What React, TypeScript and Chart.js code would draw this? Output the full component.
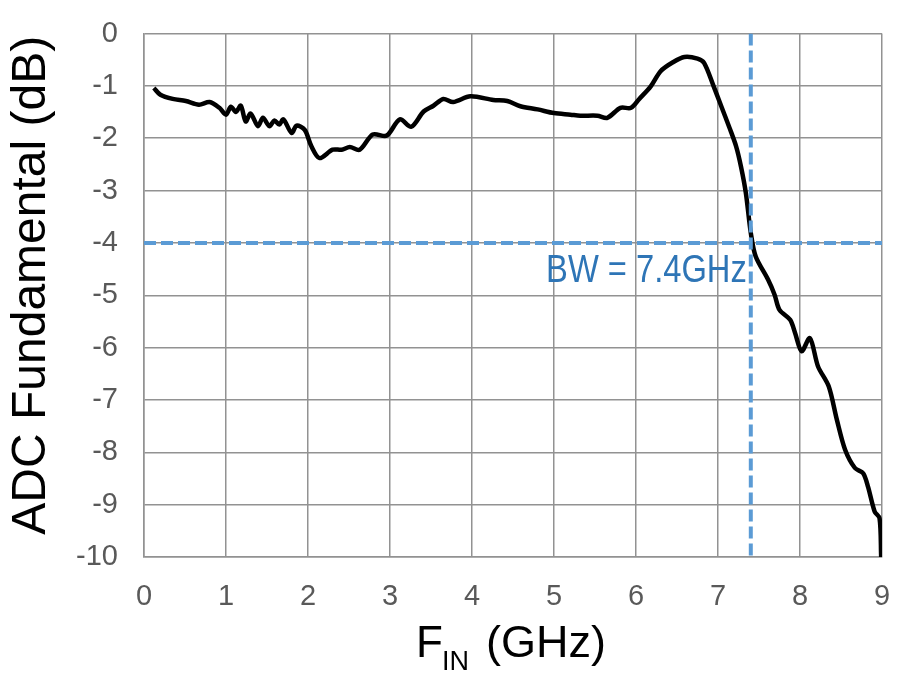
import React, { useEffect, useRef } from "react";
import { Chart, registerables } from "chart.js";

Chart.register(...registerables);

// Measured ADC fundamental vs. input frequency
const freqGHz = [
  0.12, 0.2, 0.35, 0.51, 0.67, 0.8, 0.92, 1.0, 1.06, 1.12, 1.18, 1.24, 1.3, 1.39, 1.45,
  1.53, 1.59, 1.65, 1.7, 1.8, 1.86, 1.96, 2.04, 2.14, 2.3, 2.41, 2.51, 2.63, 2.79, 2.96,
  3.12, 3.26, 3.41, 3.53, 3.65, 3.77, 3.98, 4.26, 4.43, 4.59, 4.8, 5.0, 5.2, 5.32, 5.53,
  5.65, 5.81, 5.94, 6.04, 6.18, 6.3, 6.45, 6.59, 6.75, 6.83, 6.94, 7.04, 7.14, 7.22, 7.28,
  7.34, 7.4, 7.46, 7.61, 7.69, 7.75, 7.88, 7.94, 8.02, 8.12, 8.22, 8.35, 8.45, 8.55, 8.67,
  8.77, 8.83, 8.91, 8.97, 8.99,
];
const fundamentalDb = [
  -1.04, -1.17, -1.25, -1.29, -1.36, -1.31, -1.42, -1.55, -1.4, -1.5, -1.38, -1.68, -1.53, -1.77, -1.61,
  -1.77, -1.66, -1.74, -1.64, -1.9, -1.76, -1.84, -2.15, -2.38, -2.22, -2.22, -2.17, -2.22, -1.93, -1.95,
  -1.64, -1.78, -1.49, -1.38, -1.25, -1.31, -1.2, -1.27, -1.29, -1.39, -1.45, -1.52, -1.55, -1.57, -1.57,
  -1.61, -1.42, -1.42, -1.25, -1.01, -0.72, -0.55, -0.45, -0.48, -0.56, -0.98, -1.39, -1.8, -2.15, -2.54,
  -3.05, -3.81, -4.26, -4.7, -4.99, -5.28, -5.47, -5.72, -6.07, -5.82, -6.36, -6.74, -7.38, -7.95, -8.3,
  -8.4, -8.66, -9.13, -9.26, -10.0,
];

// Axis ranges / ticks
const xMin = 0;
const xMax = 9;
const xStep = 1;
const yMin = -10;
const yMax = 0;
const yStep = 1;

// -4 dB bandwidth markers
const bwFreqGHz = 7.4;
const bwLevelDb = -4;
const bwLabel = "BW = 7.4GHz";

// Axis titles
const yTitle = "ADC Fundamental (dB)";
const xTitleMain = "F";
const xTitleSub = "IN";
const xTitleRest = "(GHz)";

const FONT = '"Liberation Sans", Arial, Helvetica, sans-serif';

const annotationPlugin = {
  id: "annotations",
  afterDraw(chart: any) {
    const { ctx, chartArea } = chart;
    const xs = chart.scales.x;
    const ys = chart.scales.y;

    // BW label
    ctx.save();
    ctx.fillStyle = "#2E75B6";
    ctx.font = `38px ${FONT}`;
    ctx.textAlign = "right";
    ctx.textBaseline = "alphabetic";
    ctx.translate(xs.getPixelForValue(bwFreqGHz) - 4, ys.getPixelForValue(bwLevelDb) + 39);
    ctx.scale(0.86, 1);
    ctx.fillText(bwLabel, 0, 0);
    ctx.restore();

    // Y axis title
    ctx.save();
    ctx.fillStyle = "#000000";
    ctx.font = `48px ${FONT}`;
    ctx.textAlign = "center";
    ctx.textBaseline = "alphabetic";
    ctx.translate(45, (chartArea.top + chartArea.bottom) / 2 - 10);
    ctx.rotate(-Math.PI / 2);
    ctx.fillText(yTitle, 0, 0);
    ctx.restore();

    // X axis title with subscript
    ctx.save();
    ctx.fillStyle = "#000000";
    ctx.textAlign = "left";
    ctx.textBaseline = "alphabetic";
    const cx = (chartArea.left + chartArea.right) / 2;
    const o = cx - 97;
    const base = chartArea.bottom + 100;
    ctx.font = `44px ${FONT}`;
    const wF = ctx.measureText(xTitleMain).width;
    ctx.fillText(xTitleMain, o, base);
    ctx.font = `27px ${FONT}`;
    ctx.fillText(xTitleSub, o + wF - 1, base + 13);
    ctx.font = `45px ${FONT}`;
    ctx.fillText(xTitleRest, o + 70, base);
    ctx.restore();
  },
};

export default function App() {
  const canvasRef = useRef<HTMLCanvasElement | null>(null);

  useEffect(() => {
    document.body.style.margin = "0";
    const canvas = canvasRef.current;
    if (!canvas) return;

    const curve = freqGHz.map((f, i) => ({ x: f, y: fundamentalDb[i] }));
    const hLine = [
      { x: xMin, y: bwLevelDb },
      { x: xMax, y: bwLevelDb },
    ];
    const vLine = [
      { x: bwFreqGHz, y: yMax },
      { x: bwFreqGHz, y: yMin },
    ];

    const chart = new Chart(canvas, {
      type: "line",
      data: {
        datasets: [
          {
            label: "BW level",
            data: hLine,
            borderColor: "#5B9BD5",
            borderWidth: 4,
            borderDash: [12, 5],
            pointRadius: 0,
            tension: 0,
            order: 0,
          },
          {
            label: "BW freq",
            data: vLine,
            borderColor: "#5B9BD5",
            borderWidth: 4,
            borderDash: [12, 5],
            pointRadius: 0,
            tension: 0,
            order: 0,
          },
          {
            label: "Fundamental",
            data: curve,
            borderColor: "#000000",
            borderWidth: 4.5,
            pointRadius: 0,
            tension: 0.3,
            order: 1,
          },
        ],
      },
      options: {
        responsive: false,
        animation: false,
        devicePixelRatio: 1,
        layout: { padding: { top: 33.5, right: 18, left: 0, bottom: 0 } },
        plugins: {
          legend: { display: false },
          tooltip: { enabled: false },
          title: { display: false },
        },
        scales: {
          x: {
            type: "linear",
            min: xMin,
            max: xMax,
            ticks: {
              stepSize: xStep,
              color: "#595959",
              font: { family: FONT, size: 29 },
              padding: 23,
              maxRotation: 0,
              autoSkip: false,
            },
            grid: { color: "#929292", lineWidth: 1.5, drawTicks: false },
            border: { color: "#929292", width: 1.5 },
            afterFit: (s: any) => {
              s.height = 130;
              s.paddingLeft = 0;
              s.paddingRight = 0;
              s.paddingTop = 0;
              s.paddingBottom = 0;
            },
          },
          y: {
            type: "linear",
            min: yMin,
            max: yMax,
            ticks: {
              stepSize: yStep,
              color: "#595959",
              font: { family: FONT, size: 29 },
              padding: 26,
              autoSkip: false,
            },
            grid: { color: "#929292", lineWidth: 1.5, drawTicks: false },
            border: { color: "#929292", width: 1.5 },
            afterFit: (s: any) => {
              s.width = 144;
              s.paddingLeft = 0;
              s.paddingRight = 0;
              s.paddingTop = 0;
              s.paddingBottom = 0;
            },
          },
        },
      } as any,
      plugins: [annotationPlugin],
    });

    return () => chart.destroy();
  }, []);

  return (
    <div style={{ width: 900, height: 687, background: "#ffffff" }}>
      <canvas ref={canvasRef} width={900} height={687} style={{ display: "block" }} />
    </div>
  );
}
